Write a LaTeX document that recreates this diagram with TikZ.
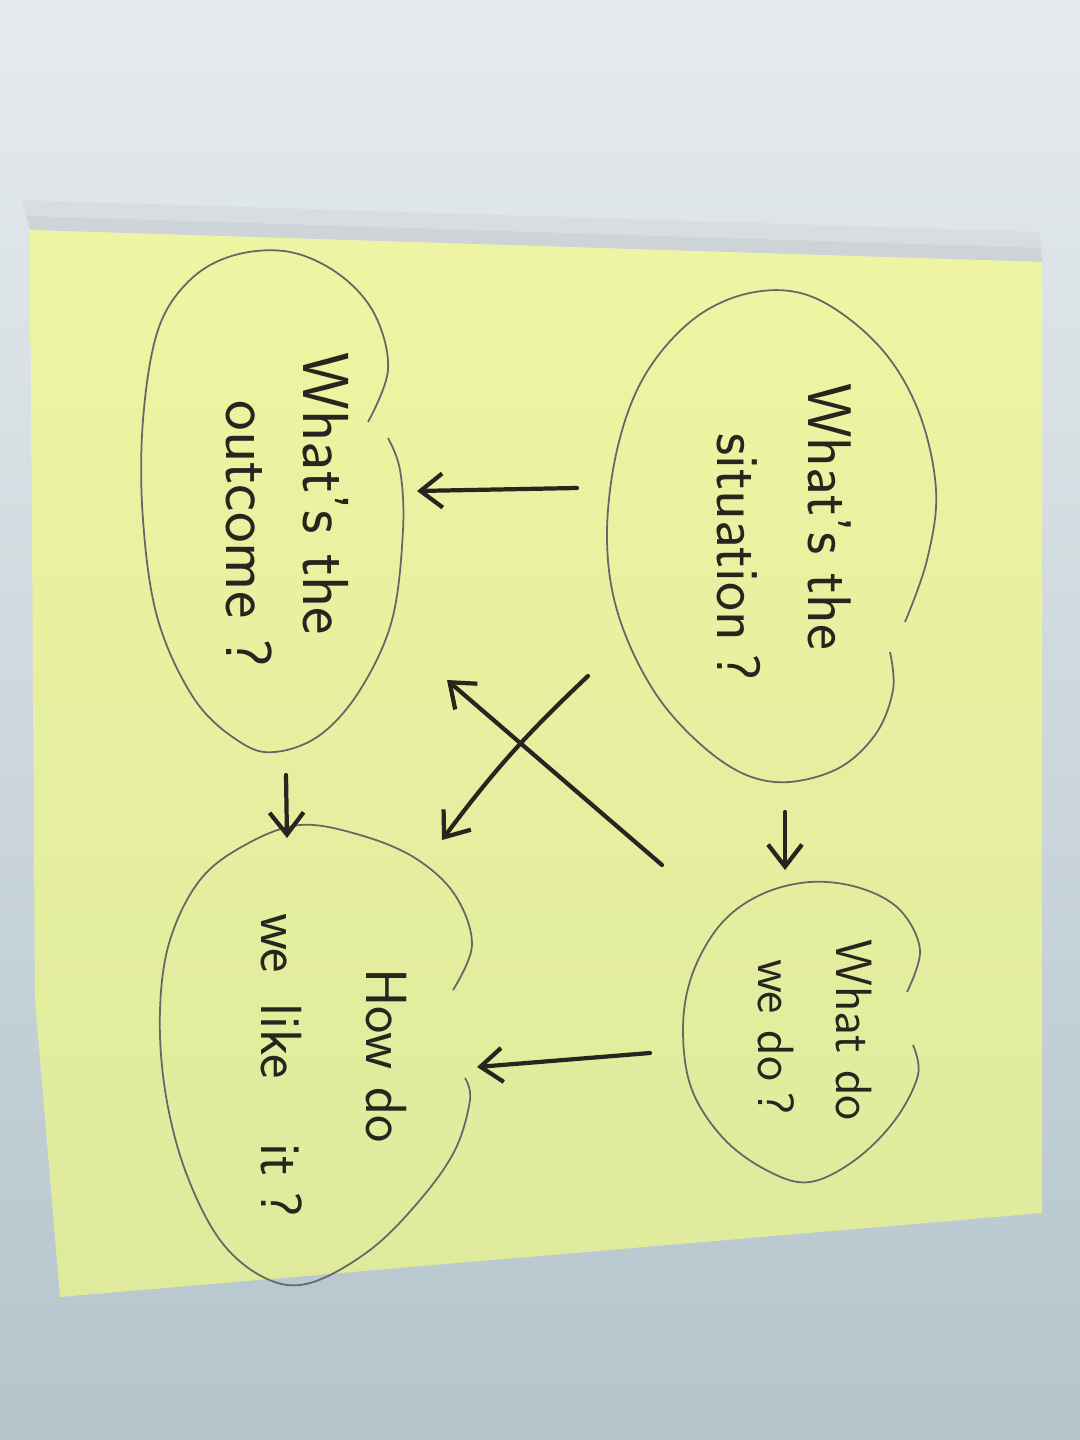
\documentclass[tikz,border=0pt]{standalone}
\usetikzlibrary{arrows.meta}
\definecolor{wallTop}{HTML}{E6EBED}
\definecolor{wallBot}{HTML}{B4C5CC}
\definecolor{noteTop}{HTML}{EEF5A2}
\definecolor{noteMid}{HTML}{D5E29A}
\definecolor{noteBot}{HTML}{DFEA9D}
\definecolor{ink}{HTML}{26261F}
\begin{document}
\begin{tikzpicture}[x=0.01cm, y=-0.01cm,
    blob/.style={draw=black!60, line width=0.5pt},
    pen/.style={draw=ink, line width=1.2pt, line cap=round,
        -{Straight Barb[length=0.22cm, width=0.34cm]}},
    hand/.style={rotate=-90, align=left, inner sep=0pt, text=ink}]
    \useasboundingbox (0,0) rectangle (1080,1440);

    % wall and note
    \shade[top color=wallTop, bottom color=wallBot] (0,0) rectangle (1080,1440);
    \fill[black, opacity=0.03] (22,200) -- (1040,232) -- (1042,262) -- (30,230) -- cycle;
    \fill[black, opacity=0.04] (26,216) -- (1040,248) -- (1042,262) -- (30,230) -- cycle;
    \shade[top color=noteTop, middle color=noteMid, bottom color=noteBot]
        (30,230) -- (1042,262) -- (1042,1213) -- (60,1297) -- (35,1000) -- cycle;

    % the four bubbles
    \draw[blob] plot[smooth, tension=0.6] coordinates {(905,622) (927,560) (936,490)
        (918,410) (878,345) (815,298) (755,292) (695,318) (645,375) (617,450) (607,540)
        (620,620) (660,700) (720,760) (775,782) (835,770) (875,735) (893,690) (890,652)};
    \draw[blob] plot[smooth, tension=0.6] coordinates {(368,422) (388,370) (375,315)
        (340,275) (290,252) (235,255) (190,280) (158,330) (143,420) (143,520) (158,620)
        (195,700) (240,742) (275,752) (320,735) (360,690) (392,620) (403,530) (400,470)
        (388,438)};
    \draw[blob] plot[smooth, tension=0.6] coordinates {(907,992) (920,950) (900,910)
        (860,888) (810,882) (760,895) (720,925) (692,975) (683,1030) (692,1090)
        (725,1140) (770,1172) (810,1182) (855,1160) (895,1120) (918,1075) (913,1045)};
    \draw[blob] plot[smooth, tension=0.6] coordinates {(453,990) (472,945) (455,895)
        (415,858) (360,835) (300,825) (245,845) (200,880) (170,940) (160,1010)
        (165,1090) (185,1170) (220,1240) (265,1278) (310,1283) (370,1250) (420,1200)
        (455,1150) (470,1100) (465,1078)};

    % texts
    \node[hand, font=\sffamily\fontsize{17.5}{26}\selectfont] (sit) at (784,532)
        {What's the\\\hspace*{0.5cm}situation\hspace{0.12cm}?};
    \node[hand, font=\sffamily\fontsize{18.5}{22}\selectfont] (out) at (287,510)
        {What's the\\\hspace*{0.48cm}outcome\hspace{0.2cm}?};
    \node[hand, font=\sffamily\fontsize{14.5}{22}\selectfont] (do) at (815,1030)
        {What do\\\hspace*{0.2cm}we do\hspace{0.1cm}?};
    \node[hand, font=\sffamily\fontsize{16.5}{30}\selectfont] (how) at (334,1065)
        {\hspace*{0.55cm}How do\\we\hspace{0.3cm}like\hspace{0.65cm}it\hspace{0.15cm}?};

    % arrows
    \coordinate (sitW) at (577,488);  \coordinate (outE) at (417,491);
    \coordinate (sitS) at (785,812);  \coordinate (doN) at (785,870);
    \coordinate (doW) at (650,1053);  \coordinate (howE) at (477,1067);
    \coordinate (outS) at (286,775);  \coordinate (howN) at (287,838);
    \coordinate (doNW) at (662,865);  \coordinate (outSE) at (447,680);
    \coordinate (sitSW) at (588,676); \coordinate (howNE) at (442,840);
    \draw[pen] (sitW) -- (outE);
    \draw[pen] (sitS) -- (doN);
    \draw[pen] (doW) -- (howE);
    \draw[pen] (outS) -- (howN);
    \draw[pen] (doNW) -- (outSE);
    \draw[pen] (sitSW) to[bend right=5] (howNE);
\end{tikzpicture}
\end{document}
